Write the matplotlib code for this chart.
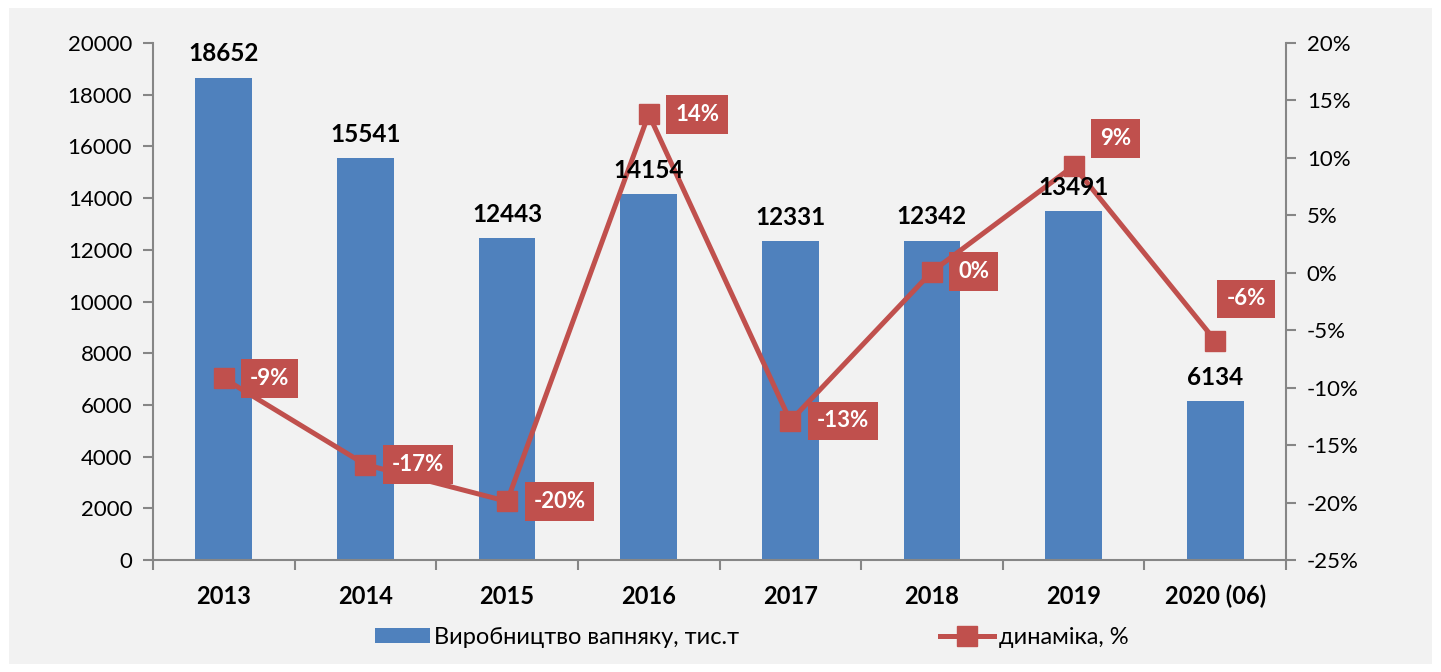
import matplotlib.pyplot as plt
from matplotlib.patches import Rectangle
from matplotlib.ticker import FuncFormatter

plt.rcParams['font.family'] = ['Lato', 'Open Sans', 'DejaVu Sans']

years = ['2013', '2014', '2015', '2016', '2017', '2018', '2019', '2020 (06)']
production = [18652, 15541, 12443, 14154, 12331, 12342, 13491, 6134]
dynamics = [-9.2, -16.7, -19.9, 13.8, -12.9, 0.1, 9.3, -5.9]

bar_color = '#4f81bd'
line_color = '#c0504d'
axis_gray = '#868686'

# label offsets (points) relative to each marker
label_offsets = [(19, 0), (19, 0), (19, 0), (19, 0), (19, 0), (19, 0), (19, 20), (8, 30)]

fig = plt.figure(figsize=(14.41, 6.72), dpi=100, facecolor='white')
fig.patches.append(Rectangle((9 / 1441, 8 / 672), 1423 / 1441, 656 / 672,
                             transform=fig.transFigure, facecolor='#f2f2f2',
                             edgecolor='none', zorder=-10))

ax = fig.add_axes([153 / 1441, 1 - 560 / 672, (1286 - 153) / 1441, (560 - 43) / 672])
ax.set_facecolor('none')
x = list(range(len(years)))
ax.bar(x, production, width=0.4, color=bar_color, label='Виробництво вапняку, тис.т', zorder=2)

ax.set_xlim(-0.5, len(years) - 0.5)
ax.set_ylim(0, 20000)
ax.set_yticks(range(0, 20001, 2000))
ax.set_xticks(x)
ax.set_xticklabels(years, fontsize=17, fontweight='bold')
ax.set_xticks([i - 0.5 for i in range(len(years) + 1)], minor=True)
ax.tick_params(axis='x', which='major', length=0, pad=18)
ax.tick_params(axis='x', which='minor', length=7, color=axis_gray, width=1.5)
ax.tick_params(axis='y', labelsize=16, length=7, color=axis_gray, width=1.5, pad=8)
for side in ['top', 'right']:
    ax.spines[side].set_visible(False)
for side in ['left', 'bottom']:
    ax.spines[side].set_color(axis_gray)
    ax.spines[side].set_linewidth(1.5)

ax2 = ax.twinx()
ax2.plot(x, dynamics, color=line_color, linewidth=3.6, marker='s', markersize=14,
         label='динаміка, %', zorder=3)
ax2.set_ylim(-25, 20)
ax2.set_yticks(range(-25, 21, 5))
ax2.yaxis.set_major_formatter(FuncFormatter(lambda v, p: f'{v:.0f}%'))
ax2.tick_params(axis='y', labelsize=16, length=7, color=axis_gray, width=1.5, pad=8)
for side in ['top', 'left', 'bottom']:
    ax2.spines[side].set_visible(False)
ax2.spines['right'].set_color(axis_gray)
ax2.spines['right'].set_linewidth(1.5)

# bar value labels drawn on top of the line
for xi, v in zip(x, production):
    ax2.annotate(str(v), (xi, v), xycoords=ax.transData, xytext=(0, 9),
                 textcoords='offset points', ha='center', va='bottom',
                 fontsize=17.5, fontweight='bold', color='black', zorder=5)

for xi, v, off in zip(x, dynamics, label_offsets):
    ax2.annotate(f'{v:.0f}%', (xi, v), xytext=off, textcoords='offset points',
                 ha='left', va='center', fontsize=16, fontweight='bold', color='white',
                 bbox=dict(boxstyle='square,pad=0.4', fc=line_color, ec='none'), zorder=4)

h1, l1 = ax.get_legend_handles_labels()
h2, l2 = ax2.get_legend_handles_labels()
fig.legend(h1 + h2, l1 + l2, loc='center', bbox_to_anchor=(752 / 1441, 1 - 637 / 672), ncol=2,
           frameon=False, fontsize=17, handlelength=2.3, handleheight=0.6, handletextpad=0.2,
           columnspacing=8.5)

fig.savefig('out.png', dpi=100, facecolor='white')
